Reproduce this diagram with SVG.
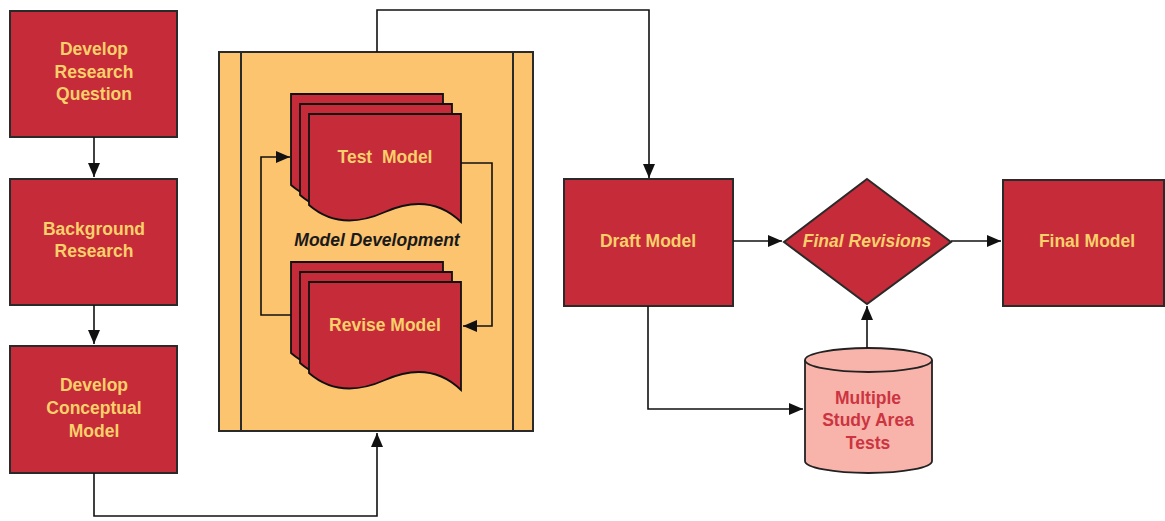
<svg xmlns="http://www.w3.org/2000/svg" width="1165" height="521" viewBox="0 0 1165 521">
<defs>
<style>
.box{fill:#C62B39;stroke:#2a2a2a;stroke-width:2}
.lbl{font-family:"Liberation Sans",Arial,sans-serif;font-weight:bold;font-size:17.5px;fill:#FAD06B;text-anchor:middle}
.it{font-style:italic}
.conn{fill:none;stroke:#111;stroke-width:1.6}
.doc{fill:#C62B39;stroke:#111;stroke-width:1.8}
</style>
<marker id="ah" viewBox="0 0 14 12" refX="14" refY="6" markerWidth="14" markerHeight="12" markerUnits="userSpaceOnUse" orient="auto">
<path d="M0,0 L14,6 L0,12 Z" fill="#111"/>
</marker>
<path id="docshape" d="M0,0 H152 V108 Q121,78 76,98 Q31,118 0,91 Z"/>
</defs>
<rect width="1165" height="521" fill="#fff"/>

<g id="develop-research-question">
<rect class="box" x="10" y="11" width="167" height="126"/>
<text class="lbl" x="94" y="55">Develop</text>
<text class="lbl" x="94" y="78">Research</text>
<text class="lbl" x="94" y="100">Question</text>
</g>

<g id="background-research">
<rect class="box" x="10" y="179" width="167" height="126"/>
<text class="lbl" x="94" y="235">Background</text>
<text class="lbl" x="94" y="257">Research</text>
</g>

<g id="develop-conceptual-model">
<rect class="box" x="10" y="346" width="167" height="127"/>
<text class="lbl" x="94" y="391">Develop</text>
<text class="lbl" x="94" y="414">Conceptual</text>
<text class="lbl" x="94" y="437">Model</text>
</g>

<g id="model-development">
<rect x="219" y="52" width="314" height="379" fill="#FDC470" stroke="#2a2a2a" stroke-width="2"/>
<line x1="241" y1="52" x2="241" y2="431" stroke="#2a2a2a" stroke-width="2"/>
<line x1="513" y1="52" x2="513" y2="431" stroke="#2a2a2a" stroke-width="2"/>
<text class="lbl it" x="377" y="246" style="fill:#1a1a1a">Model Development</text>
</g>

<g id="test-model">
<use href="#docshape" class="doc" x="291" y="94"/>
<use href="#docshape" class="doc" x="300" y="104"/>
<use href="#docshape" class="doc" x="309" y="114"/>
<text class="lbl" x="385" y="163" xml:space="preserve">Test  Model</text>
</g>

<g id="revise-model">
<use href="#docshape" class="doc" x="291" y="262"/>
<use href="#docshape" class="doc" x="300" y="272"/>
<use href="#docshape" class="doc" x="309" y="282"/>
<text class="lbl" x="385" y="331">Revise Model</text>
</g>

<g id="draft-model">
<rect class="box" x="564" y="179" width="169" height="127"/>
<text class="lbl" x="648" y="247">Draft Model</text>
</g>

<g id="final-revisions">
<polygon class="box" points="867,179 951,242 867,304 784,242"/>
<text class="lbl it" x="867" y="247">Final Revisions</text>
</g>

<g id="final-model">
<rect class="box" x="1003" y="180" width="161" height="126"/>
<text class="lbl" x="1087" y="247">Final Model</text>
</g>

<g id="multiple-study-area-tests">
<path d="M805,360 V461 A63.5,12 0 0 0 932,461 V360 A63.5,12 0 0 0 805,360 Z" fill="#F8B4AB" stroke="#222" stroke-width="1.8"/>
<path d="M805,360 A63.5,12 0 0 0 932,360" fill="none" stroke="#222" stroke-width="1.8"/>
<text class="lbl" x="868" y="404" style="fill:#CC3441">Multiple</text>
<text class="lbl" x="868" y="426" style="fill:#CC3441">Study Area</text>
<text class="lbl" x="868" y="449" style="fill:#CC3441">Tests</text>
</g>

<g id="connectors">
<path class="conn" d="M94,137 V177" marker-end="url(#ah)"/>
<path class="conn" d="M94,305 V344" marker-end="url(#ah)"/>
<path class="conn" d="M94,473 V516 H377 V433" marker-end="url(#ah)"/>
<path class="conn" d="M377,52 V10 H649 V178" marker-end="url(#ah)"/>
<path class="conn" d="M291,315 H261 V157 H290" marker-end="url(#ah)"/>
<path class="conn" d="M461,163 H492 V326 H463" marker-end="url(#ah)"/>
<path class="conn" d="M733,241 H782" marker-end="url(#ah)"/>
<path class="conn" d="M951,241 H1001" marker-end="url(#ah)"/>
<path class="conn" d="M648,306 V409 H803" marker-end="url(#ah)"/>
<path class="conn" d="M867,348 V306" marker-end="url(#ah)"/>
</g>
</svg>
